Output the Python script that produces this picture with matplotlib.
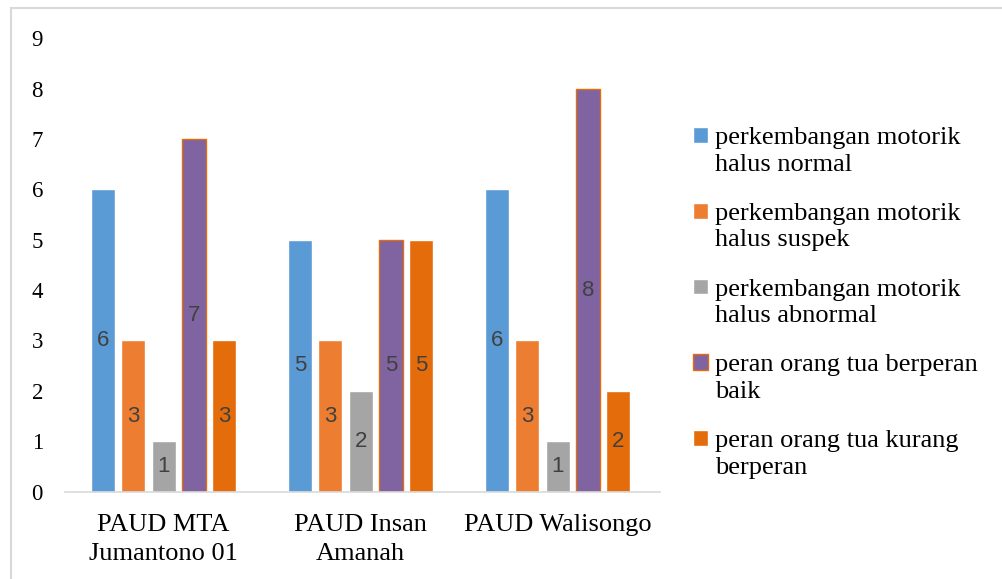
import matplotlib
matplotlib.use("Agg")
import matplotlib.pyplot as plt
import numpy as np
from matplotlib.patches import Rectangle

categories = ["PAUD MTA\nJumantono 01", "PAUD Insan\nAmanah", "PAUD Walisongo"]
series_names = [
    "perkembangan motorik\nhalus normal",
    "perkembangan motorik\nhalus suspek",
    "perkembangan motorik\nhalus abnormal",
    "peran orang tua berperan\nbaik",
    "peran orang tua kurang\nberperan",
]
normal = [6, 5, 6]
suspek = [3, 3, 3]
abnormal = [1, 2, 1]
baik = [7, 5, 8]
kurang = [3, 5, 2]

colors = ["#5B9BD5", "#ED7D31", "#A5A5A5", "#8064A2", "#E46C0A"]
edges = ["white", "white", "white", "#E46C0A", "white"]

fig = plt.figure(figsize=(10.03, 5.79), dpi=100)
ax = fig.add_axes([0.065, 0.151, 0.593, 0.783])

# light frame around the chart area
fig.patches.append(Rectangle((11 / 1003, -0.1), 1.1, (579 - 8) / 579 + 0.1,
                             transform=fig.transFigure, fill=False,
                             edgecolor="#D9D9D9", linewidth=1.5))

x = np.arange(len(categories))
pitch = 0.154
width = 0.122
data = [normal, suspek, abnormal, baik, kurang]
for i, vals in enumerate(data):
    bars = ax.bar(x + (i - 2) * pitch, vals, width, color=colors[i],
                  edgecolor=edges[i], linewidth=1.0, label=series_names[i])
    ax.bar_label(bars, label_type="center", fontsize=16, color="#404040",
                 family="Liberation Sans")

ax.set_xlim(-0.5, 2.52)
ax.set_ylim(0, 9)
ax.set_yticks(range(0, 10))
ax.set_xticks(x)
ax.set_xticklabels(categories, family="Liberation Serif", fontsize=19,
                   linespacing=1.4)
for lbl in ax.get_yticklabels():
    lbl.set_family("Liberation Serif")
    lbl.set_fontsize(16.5)
ax.tick_params(length=0)
ax.tick_params(axis="y", pad=16)
ax.tick_params(axis="x", pad=16)
for s in ["top", "right", "left"]:
    ax.spines[s].set_visible(False)
ax.spines["bottom"].set_color("#D9D9D9")
ax.spines["bottom"].set_linewidth(1.2)

leg = fig.legend(loc="upper left", bbox_to_anchor=(693 / 1003, 1 - 127 / 579),
                 frameon=False, borderpad=0, borderaxespad=0,
                 prop={"family": "Liberation Serif", "size": 19},
                 handlelength=0.55, handleheight=0.55, handletextpad=0.3,
                 labelspacing=1.03)
for t in leg.get_texts():
    t.set_linespacing(1.27)
# put the colour square next to the first line of each label
for col in leg._legend_handle_box.get_children():
    for row in col.get_children():
        row.align = "top"

fig.savefig("out.png", dpi=100)
